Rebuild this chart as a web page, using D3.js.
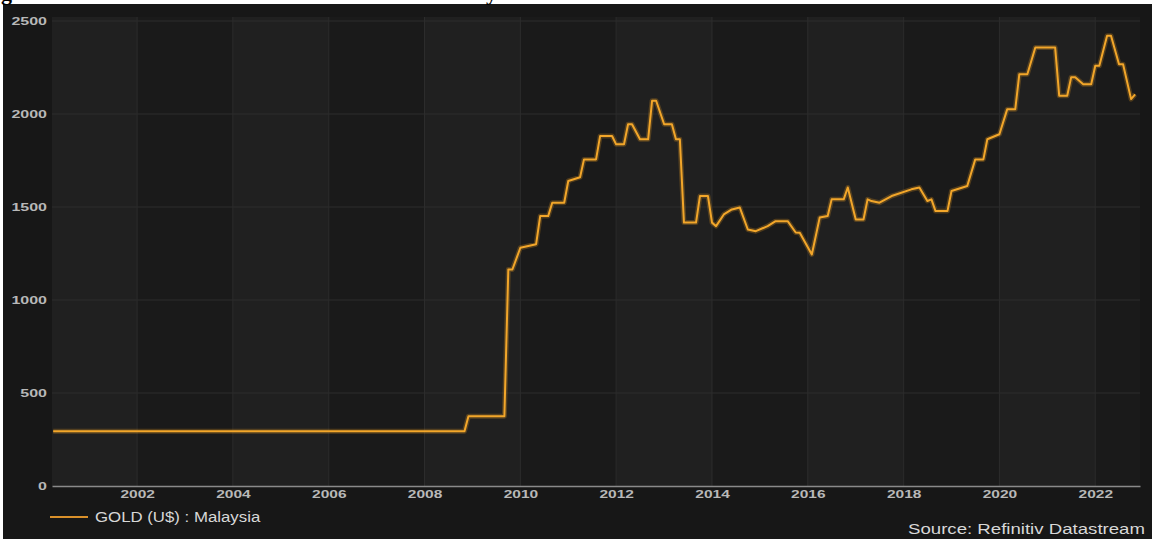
<!DOCTYPE html>
<html>
<head>
<meta charset="utf-8">
<script src="https://cdn.jsdelivr.net/npm/d3@7"></script>
<style>
  body { margin: 0; background: #fff; }
  svg { display: block; }
</style>
</head>
<body>
<svg id="chart" width="1159" height="539"></svg>
<script>
// gold price (US$) : Malaysia
const months = [
  '2000-04', '2008-11', '2008-12', '2009-09', '2009-10', '2009-11', '2010-01', '2010-05', '2010-06', '2010-08',
  '2010-09', '2010-12', '2011-01', '2011-04', '2011-05', '2011-08', '2011-09', '2011-12', '2012-01', '2012-03',
  '2012-04', '2012-05', '2012-07', '2012-09', '2012-10', '2012-11', '2013-01', '2013-03', '2013-04', '2013-05',
  '2013-06', '2013-09', '2013-10', '2013-12', '2014-01', '2014-02', '2014-04', '2014-06', '2014-08', '2014-10',
  '2014-12', '2015-03', '2015-05', '2015-08', '2015-10', '2015-11', '2016-02', '2016-04', '2016-06', '2016-07',
  '2016-10', '2016-11', '2017-01', '2017-03', '2017-04', '2017-05', '2017-07', '2017-10', '2018-03', '2018-05',
  '2018-07', '2018-08', '2018-09', '2018-12', '2019-01', '2019-05', '2019-07', '2019-09', '2019-10', '2020-01',
  '2020-03', '2020-05', '2020-06', '2020-08', '2020-10', '2021-03', '2021-04', '2021-06', '2021-07', '2021-08',
  '2021-10', '2021-12', '2022-01', '2022-02', '2022-04', '2022-05', '2022-07', '2022-08', '2022-10', '2022-11'
]
const gold = [
  295, 295, 375, 375, 1164, 1164, 1281, 1300, 1451, 1451,
  1523, 1523, 1640, 1660, 1756, 1756, 1882, 1882, 1837, 1837,
  1945, 1945, 1864, 1864, 2071, 2071, 1945, 1945, 1864, 1864,
  1416, 1416, 1559, 1559, 1416, 1397, 1460, 1487, 1497, 1379,
  1370, 1397, 1424, 1424, 1363, 1361, 1245, 1443, 1452, 1541,
  1541, 1605, 1433, 1433, 1541, 1532, 1523, 1559, 1595, 1605,
  1532, 1541, 1478, 1478, 1586, 1613, 1756, 1756, 1864, 1891,
  2026, 2026, 2214, 2214, 2358, 2358, 2098, 2098, 2197, 2197,
  2160, 2160, 2259, 2259, 2421, 2421, 2268, 2268, 2080, 2106
]
const yTicks = [0, 500, 1000, 1500, 2000, 2500]
const xTickYears = [2002, 2004, 2006, 2008, 2010, 2012, 2014, 2016, 2018, 2020, 2022]
const seriesName = 'GOLD (U$) : Malaysia'
const sourceText = 'Source: Refinitiv Datastream'

const parseMonth = d3.timeParse('%Y-%m')
const data = months.map((m, i) => ({ date: parseMonth(m), value: gold[i] }))

const svg = d3.select('#chart')
const plotLeft = 52, plotRight = 1140, plotTop = 21, plotBottom = 486
const font = '"Liberation Sans", Arial, sans-serif'

const x = d3.scaleTime()
    .domain([new Date(2000, 2, 23), new Date(2022, 11, 8)])
    .range([plotLeft, plotRight])
const y = d3.scaleLinear()
    .domain([0, 2500])
    .range([plotBottom, plotTop])

// the source picture is stretched sideways, so widen the texts the same way
function stretch(sel, factor) {
    sel.each(function () {
        let w = this.getComputedTextLength()
        d3.select(this)
            .attr('textLength', w * factor)
            .attr('lengthAdjust', 'spacingAndGlyphs')
    })
}

// dark panel
svg.append('rect')
    .attr('x', 3).attr('y', 4)
    .attr('width', 1149).attr('height', 535)
    .attr('fill', '#171717')

// cut-off caption above the chart (only descenders show)
svg.append('g')
    .style('font-family', '"Liberation Serif", serif')
    .style('font-weight', 'bold')
    .style('font-size', '22px')
    .attr('fill', '#000')
    .selectAll('text')
    .data([{ t: 'g', x: 1 }, { t: 'y', x: 486 }])
    .join('text')
    .attr('x', d => d.x)
    .attr('y', 0)
    .text(d => d.t)

// alternating year bands
let bandEdges = [x.domain()[0]].concat(xTickYears.map(yr => new Date(yr, 0, 1)), [x.domain()[1]])
let bands = d3.pairs(bandEdges)
svg.append('g')
    .selectAll('rect')
    .data(bands)
    .join('rect')
    .attr('x', d => x(d[0]))
    .attr('y', plotTop - 4)
    .attr('width', d => x(d[1]) - x(d[0]))
    .attr('height', plotBottom - plotTop + 4)
    .attr('fill', (d, i) => i % 2 == 0 ? '#202020' : '#1a1a1a')

// grid
svg.append('g')
    .selectAll('line')
    .data(yTicks.slice(1))
    .join('line')
    .attr('x1', plotLeft).attr('x2', plotRight)
    .attr('y1', d => y(d)).attr('y2', d => y(d))
    .attr('stroke', '#2c2c2c')
    .attr('stroke-width', 1)

svg.append('g')
    .selectAll('line')
    .data(xTickYears)
    .join('line')
    .attr('x1', d => x(new Date(d, 0, 1))).attr('x2', d => x(new Date(d, 0, 1)))
    .attr('y1', plotTop - 4).attr('y2', plotBottom)
    .attr('stroke', '#2c2c2c')
    .attr('stroke-width', 1)

// axes
let xAxis = d3.axisBottom(x)
    .tickValues(xTickYears.map(yr => new Date(yr, 0, 1)))
    .tickFormat(d3.timeFormat('%Y'))
    .tickSize(0)
    .tickPadding(5)

let gx = svg.append('g')
    .attr('transform', 'translate(0,' + plotBottom + ')')
    .call(xAxis)
gx.select('.domain').attr('stroke', '#8a8a8a').attr('stroke-width', 1.5)
gx.selectAll('text')
    .style('font-family', font)
    .style('font-size', '10px')
    .style('font-weight', 'bold')
    .attr('fill', '#b8b8b8')
    .call(stretch, 1.55)

let yAxis = d3.axisLeft(y)
    .tickValues(yTicks)
    .tickFormat(d3.format('d'))
    .tickSize(0)
    .tickPadding(5)

let gy = svg.append('g')
    .attr('transform', 'translate(' + plotLeft + ',0)')
    .call(yAxis)
gy.select('.domain').remove()
gy.selectAll('text')
    .style('font-family', font)
    .style('font-size', '10px')
    .style('font-weight', 'bold')
    .attr('fill', '#b8b8b8')
    .call(stretch, 1.6)

// series line
let line = d3.line()
    .x(d => x(d.date))
    .y(d => y(d.value))

svg.append('path')
    .datum(data)
    .attr('fill', 'none')
    .attr('stroke', '#f0a020')
    .attr('stroke-opacity', 0.25)
    .attr('stroke-width', 5)
    .attr('stroke-linejoin', 'round')
    .attr('d', line)

svg.append('path')
    .datum(data)
    .attr('fill', 'none')
    .attr('stroke', '#f2a62a')
    .attr('stroke-width', 2)
    .attr('stroke-linejoin', 'round')
    .attr('d', line)

// legend
let legend = svg.append('g')
    .attr('transform', 'translate(50,517)')

legend.append('line')
    .attr('x1', 0).attr('x2', 38)
    .attr('y1', 0).attr('y2', 0)
    .attr('stroke', '#d9902a')
    .attr('stroke-width', 2)

legend.append('text')
    .attr('x', 45)
    .attr('y', 5)
    .style('font-family', font)
    .style('font-size', '14px')
    .attr('fill', '#d8d8d8')
    .text(seriesName)
    .call(stretch, 1.2)

svg.append('text')
    .attr('x', 1145)
    .attr('y', 534)
    .attr('text-anchor', 'end')
    .style('font-family', font)
    .style('font-size', '14px')
    .attr('fill', '#d8d8d8')
    .text(sourceText)
    .call(stretch, 1.33)
</script>
</body>
</html>
